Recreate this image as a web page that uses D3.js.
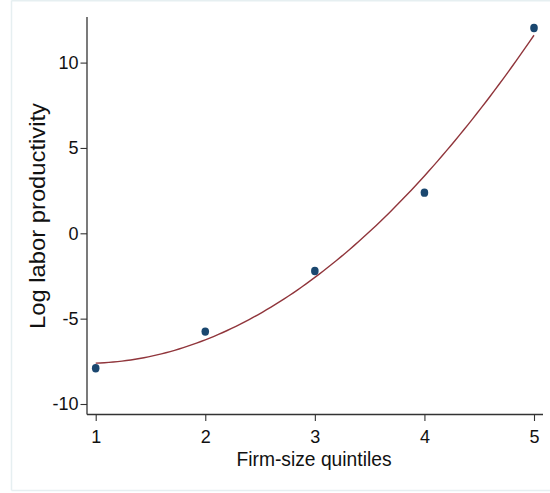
<!DOCTYPE html>
<html>
<head>
<meta charset="utf-8">
<script src="https://cdn.jsdelivr.net/npm/d3@7"></script>
<style>
html,body{margin:0;padding:0;background:#fff;}
svg{display:block;}
text{font-family:"Liberation Sans",Arial,sans-serif;fill:#111;}
</style>
</head>
<body>
<script>
// Data
const quintiles = [1, 2, 3, 4, 5];
const logProductivity = [-7.91, -5.76, -2.21, 2.38, 12.03];
const xTicks = [1, 2, 3, 4, 5];
const yTicks = [-10, -5, 0, 5, 10];
const xTitle = "Firm-size quintiles";
const yTitle = "Log labor productivity";

const W = 550, H = 493;
const svg = d3.select("body").append("svg").attr("width", W).attr("height", H);

// outer frame (light)
svg.append("line").attr("x1", 11.5).attr("x2", 11.5).attr("y1", 0.5).attr("y2", 490.5)
  .attr("stroke", "#e6eff1").attr("stroke-width", 1.5);
svg.append("line").attr("x1", 11.5).attr("x2", W).attr("y1", 0.75).attr("y2", 0.75)
  .attr("stroke", "#e6eff1").attr("stroke-width", 1.5);
svg.append("line").attr("x1", 11.5).attr("x2", W).attr("y1", 490.5).attr("y2", 490.5)
  .attr("stroke", "#e6eff1").attr("stroke-width", 1.5);

const plotL = 87, plotR = 543, plotT = 17, plotB = 414.5;
const xs = d3.scaleLinear().domain([1, 5]).range([95.7, 534]);
const ys = d3.scaleLinear().domain([-10, 10]).range([404, 62.6]);

// quadratic least-squares fit (like Stata qfit)
function qfit(xv, yv) {
  const n = xv.length;
  let S = [0,0,0,0,0], T = [0,0,0];
  for (let i = 0; i < n; i++) {
    for (let k = 0; k < 5; k++) S[k] += Math.pow(xv[i], k);
    for (let k = 0; k < 3; k++) T[k] += yv[i] * Math.pow(xv[i], k);
  }
  const A = [[S[0],S[1],S[2],T[0]],[S[1],S[2],S[3],T[1]],[S[2],S[3],S[4],T[2]]];
  for (let c = 0; c < 3; c++) {
    for (let r = c + 1; r < 3; r++) {
      const f = A[r][c] / A[c][c];
      for (let k = c; k < 4; k++) A[r][k] -= f * A[c][k];
    }
  }
  const b = [0,0,0];
  for (let r = 2; r >= 0; r--) {
    let s = A[r][3];
    for (let k = r + 1; k < 3; k++) s -= A[r][k] * b[k];
    b[r] = s / A[r][r];
  }
  return t => b[0] + b[1] * t + b[2] * t * t;
}
const fit = qfit(quintiles, logProductivity);
const fitPts = d3.range(0, 101).map(i => { const t = 1 + 4 * i / 100; return [t, fit(t)]; });

// axes
const fmt = d => String(d);
const yAxis = svg.append("g").attr("transform", `translate(${plotL},0)`)
  .call(d3.axisLeft(ys).tickValues(yTicks).tickFormat(fmt).tickSize(6.5).tickPadding(2).tickSizeOuter(0));
yAxis.select(".domain").attr("d", `M0,${plotT}V${plotB}`);
const xAxis = svg.append("g").attr("transform", `translate(0,${plotB})`)
  .call(d3.axisBottom(xs).tickValues(xTicks).tickFormat(fmt).tickSize(6.5).tickPadding(9).tickSizeOuter(0));
xAxis.select(".domain").attr("d", `M${plotL},0H${plotR}`);
svg.selectAll(".domain").attr("stroke", "#333").attr("stroke-width", 1.3);
svg.selectAll(".tick line").attr("stroke", "#333").attr("stroke-width", 1.1);
svg.selectAll(".tick text").style("font-family", '"Liberation Sans",Arial,sans-serif')
  .style("font-size", "18px").attr("fill", "#111");

// fit line
svg.append("path").datum(fitPts)
  .attr("d", d3.line().x(d => xs(d[0])).y(d => ys(d[1])))
  .attr("fill", "none").attr("stroke", "#90353b").attr("stroke-width", 1.4);

// points
svg.selectAll("ellipse.pt").data(quintiles).enter().append("ellipse")
  .attr("class", "pt")
  .attr("cx", (d, i) => xs(d)).attr("cy", (d, i) => ys(logProductivity[i]))
  .attr("rx", 3.8).attr("ry", 4.2).attr("fill", "#1a476f");

// titles
svg.append("text").attr("x", 314).attr("y", 466).attr("text-anchor", "middle")
  .style("font-size", "21px").attr("textLength", 155).attr("lengthAdjust", "spacingAndGlyphs")
  .text(xTitle);
svg.append("text").attr("transform", "translate(45,216) rotate(-90)").attr("text-anchor", "middle")
  .style("font-size", "22px").attr("textLength", 226).attr("lengthAdjust", "spacingAndGlyphs")
  .text(yTitle);
</script>
</body>
</html>
